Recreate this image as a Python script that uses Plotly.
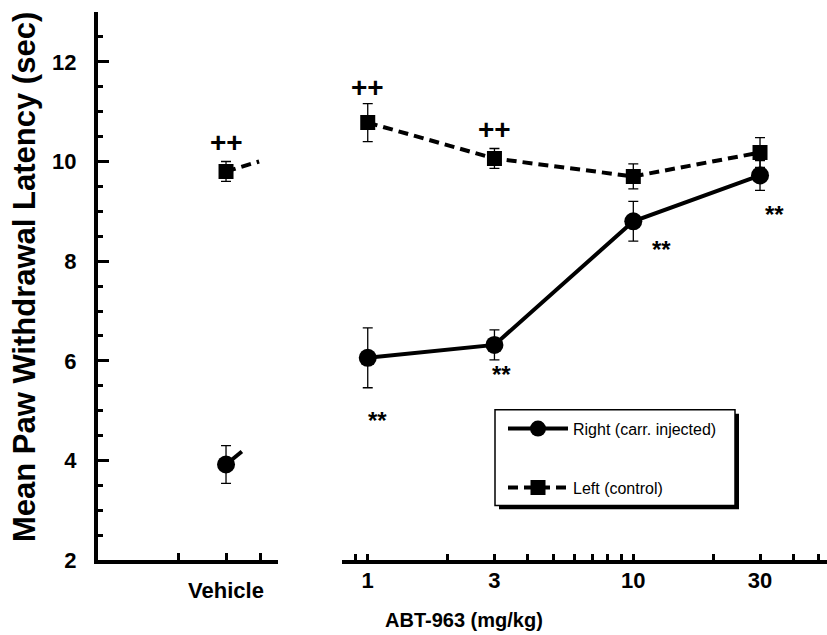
import plotly.graph_objects as go
import math

# ---------------- data ----------------
doses = [1, 3, 10, 30]
right_mean = [6.06, 6.32, 8.80, 9.72]
right_err = [0.60, 0.30, 0.40, 0.30]
left_mean = [10.78, 10.06, 9.70, 10.18]
left_err = [0.38, 0.20, 0.25, 0.30]

vehicle_x = [0]
vehicle_right_mean = [3.92]
vehicle_right_err = [0.38]
vehicle_left_mean = [9.80]
vehicle_left_err = [0.20]
# short connector stubs leaving the vehicle points
stub_right_x = [0, 0.33]
stub_right_y = [3.92, 4.18]
stub_left_x = [0, 0.69]
stub_left_y = [9.80, 10.00]

y_ticks = [2, 4, 6, 8, 10, 12]
x_ticks = [1, 3, 10, 30]
x_tick_text = ["1", "3", "10", "30"]
x_major = [1, 10]
x_minor = [0.8, 0.9, 2, 4, 5, 6, 7, 8, 9, 20, 40, 50]
veh_ticks = [-1, 0, 0.708]
veh_text = ["", "Vehicle", ""]

plus_marks = [("x", 0, 10.38), ("x2", 1, 11.48), ("x2", 3, 10.64)]
star_marks = [(1, 4.86, 10), (3, 5.78, 7), (10, 8.30, 28), (30, 9.00, 14)]

FONT = "Liberation Sans, Arial, sans-serif"
W, H = 827, 635
H_EFF = 624.0  # effective rendered height measured from test renders

def px(v):
    return v / W

def py(v):
    return 1 - v / H_EFF

fig = go.Figure()

err_style = dict(type="data", thickness=1.3, width=5, color="black")

# right panel traces
fig.add_trace(go.Scatter(
    x=doses, y=right_mean, xaxis="x2", yaxis="y",
    mode="lines+markers", name="Right (carr. injected)",
    line=dict(color="black", width=4),
    marker=dict(symbol="circle", size=18, color="black"),
    error_y=dict(array=right_err, **err_style),
    legendgroup="r",
))
fig.add_trace(go.Scatter(
    x=doses, y=left_mean, xaxis="x2", yaxis="y",
    mode="lines+markers", name="Left (control)",
    line=dict(color="black", width=4, dash="10px,6px"),
    marker=dict(symbol="square", size=15, color="black"),
    error_y=dict(array=left_err, **err_style),
    legendgroup="l",
))

# vehicle panel
fig.add_trace(go.Scatter(
    x=stub_right_x, y=stub_right_y, xaxis="x", yaxis="y", mode="lines",
    line=dict(color="black", width=4), showlegend=False, hoverinfo="skip"))
fig.add_trace(go.Scatter(
    x=stub_left_x, y=stub_left_y, xaxis="x", yaxis="y", mode="lines",
    line=dict(color="black", width=4, dash="10px,6px"), showlegend=False, hoverinfo="skip"))
fig.add_trace(go.Scatter(
    x=vehicle_x, y=vehicle_right_mean, xaxis="x", yaxis="y", mode="markers",
    marker=dict(symbol="circle", size=18, color="black"),
    error_y=dict(array=vehicle_right_err, **err_style), showlegend=False))
fig.add_trace(go.Scatter(
    x=vehicle_x, y=vehicle_left_mean, xaxis="x", yaxis="y", mode="markers",
    marker=dict(symbol="square", size=15, color="black"),
    error_y=dict(array=vehicle_left_err, **err_style), showlegend=False))

tickfont = dict(family=FONT, size=22, color="black", weight="bold")

xr_lo = math.log10(0.8)
xr_hi = (W - 367) / 266.0

annotations = []
for ax, xv, yv in plus_marks:
    annotations.append(dict(xref=ax, yref="y", x=math.log10(xv) if ax == "x2" else xv, y=yv,
                            xanchor="center", yanchor="middle",
                            text="++", showarrow=False,
                            font=dict(family=FONT, size=28, color="black", weight="bold")))
for xv, yv, sh in star_marks:
    annotations.append(dict(xref="x2", yref="y", x=math.log10(xv), y=yv, xshift=sh, yshift=-3,
                            xanchor="center", yanchor="middle",
                            text="**", showarrow=False,
                            font=dict(family=FONT, size=24, color="black", weight="bold")))
annotations.append(dict(xref="paper", yref="paper", x=px(24), y=py(278), textangle=-90,
                        xanchor="center", yanchor="middle",
                        text="Mean Paw Withdrawal Latency (sec)", showarrow=False,
                        font=dict(family=FONT, size=31, color="black", weight="bold")))
annotations.append(dict(xref="paper", yref="paper", x=px(464), y=py(622),
                        xanchor="center", yanchor="middle",
                        text="ABT-963 (mg/kg)", showarrow=False,
                        font=dict(family=FONT, size=20, color="black", weight="bold")))

shapes = [
    dict(type="rect", xref="paper", yref="paper", x0=px(499), x1=px(739), y0=py(511), y1=py(415),
         fillcolor="black", line=dict(width=0), layer="above"),
    dict(type="rect", xref="paper", yref="paper", x0=px(495), x1=px(735), y0=py(507), y1=py(411),
         fillcolor="white", line=dict(color="black", width=1.5), layer="above"),
]

fig.update_layout(
    width=W, height=H,
    margin=dict(l=0, r=0, t=0, b=0),
    paper_bgcolor="white", plot_bgcolor="white",
    font=dict(family=FONT, color="black"),
    showlegend=True,
    legend=dict(x=px(503), y=py(413), xanchor="left", yanchor="top",
                bgcolor="rgba(0,0,0,0)", borderwidth=0,
                font=dict(family=FONT, size=16, color="black"),
                tracegroupgap=35, itemwidth=60),
    xaxis=dict(domain=[px(98), px(278)], range=[-2.667, 1.083], anchor="y",
               showline=True, linewidth=4, linecolor="black", mirror=False,
               showgrid=False, zeroline=False,
               tickmode="array", tickvals=veh_ticks, ticktext=veh_text,
               ticks="inside", ticklen=7, tickwidth=3, tickcolor="black",
               tickfont=tickfont, ticklabelstandoff=7),
    xaxis2=dict(domain=[px(342), 1.0], type="log", range=[xr_lo, xr_hi], anchor="y",
                showline=True, linewidth=4, linecolor="black",
                showgrid=False, zeroline=False,
                tickmode="array", tickvals=x_ticks, ticktext=x_tick_text,
                ticks="inside", ticklen=6, tickwidth=3, tickcolor="black",
                tickfont=tickfont, ticklabelstandoff=-3,
                minor=dict(tickmode="array", tickvals=x_minor, ticks="inside",
                           ticklen=6, tickwidth=3, tickcolor="black", showgrid=False)),
    xaxis3=dict(domain=[px(342), 1.0], type="log", range=[xr_lo, xr_hi], anchor="y",
                overlaying="x2", showline=False, showgrid=False, zeroline=False,
                tickmode="array", tickvals=x_major, showticklabels=False,
                ticks="inside", ticklen=11, tickwidth=3, tickcolor="black"),
    yaxis=dict(domain=[py(562), py(12)], range=[2, 13], anchor="x",
               showline=True, linewidth=4, linecolor="black",
               showgrid=False, zeroline=False,
               tickmode="array", tickvals=y_ticks,
               ticks="inside", ticklen=11, tickwidth=3, tickcolor="black",
               tickfont=tickfont, ticklabelstandoff=13,
               minor=dict(dtick=0.5, ticks="inside", ticklen=5, tickwidth=3,
                          tickcolor="black", showgrid=False)),
    annotations=annotations,
    shapes=shapes,
)

fig.write_html("out.html",
               config={"displayModeBar": False},
               post_script="document.body.style.margin='0';document.body.style.overflow='hidden';")
